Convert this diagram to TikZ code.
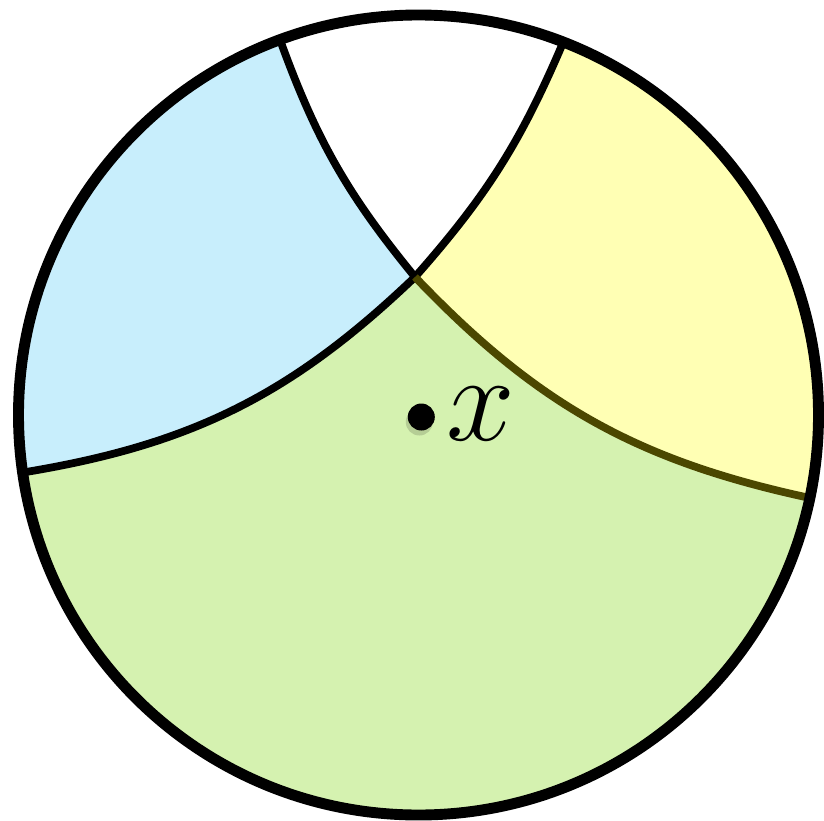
\documentclass[tikz,border=0pt]{standalone}
\usepackage{graphicx}
\usepackage{xcolor}
\usepackage{tikz}
\usetikzlibrary{positioning,shadows}
\definecolor{cellblue}{HTML}{C8EEFC}
\definecolor{cellyellow}{HTML}{FFFFB4}
\definecolor{cellgreen}{HTML}{D5F2B0}
\definecolor{edgeolive}{HTML}{4B4700}
\tikzset{
  rim/.style={draw=black, line width=3.1pt},
  geo/.style={draw=black, line width=2.2pt},
  geodim/.style={geo, draw=edgeolive},
  pt/.style={circle, fill=black, inner sep=0pt, minimum size=2.7mm,
             drop shadow={shadow xshift=-0.2mm, shadow yshift=-0.5mm,
                          opacity=0.15, fill=black}},
  lbl/.style={inner sep=0pt, font=\Huge},
}

\begin{document}
\begin{tikzpicture}
  \useasboundingbox (-4.185,-4.05) rectangle (4.055,4.15);
  % --- end points on the rim and the crossing ---
  \coordinate (a1) at (110.26:4);
  \coordinate (a2) at (68.78:4);
  \coordinate (b1) at (-11.97:4);
  \coordinate (b2) at (188.27:4);
  \coordinate (p)  at (-0.035,1.38);

  % --- cells ---
  \fill[white] (a1) to[bend right=9.7] (p) to[bend right=9.2] (a2)
       arc[start angle=68.78, end angle=110.26, radius=4] -- cycle;
  \fill[cellyellow] (a2) to[bend left=9.2] (p) to[bend right=17.1] (b1)
       arc[start angle=-11.97, end angle=68.78, radius=4] -- cycle;
  \fill[cellgreen] (b1) to[bend left=17.1] (p) to[bend left=17.2] (b2)
       arc[start angle=188.27, end angle=348.03, radius=4] -- cycle;
  \fill[cellblue] (b2) to[bend right=17.2] (p) to[bend left=9.7] (a1)
       arc[start angle=110.26, end angle=188.27, radius=4] -- cycle;

  % --- edges ---
  \draw[geo] (a1) to[bend right=9.7] (p);
  \draw[geo] (a2) to[bend left=9.2] (p);
  \draw[geo] (p) to[bend left=17.2] (b2);
  \draw[geodim] (p) to[bend right=17.1] (b1);
  \draw[rim] (0,0) circle[radius=4];

  % --- point ---
  \node[pt] (x) at (0.028,-0.02) {};
  \node[lbl, right=1mm of x, yshift=0.3mm] (xl) {\scalebox{1.41}{$x$}};
\end{tikzpicture}
\end{document}
